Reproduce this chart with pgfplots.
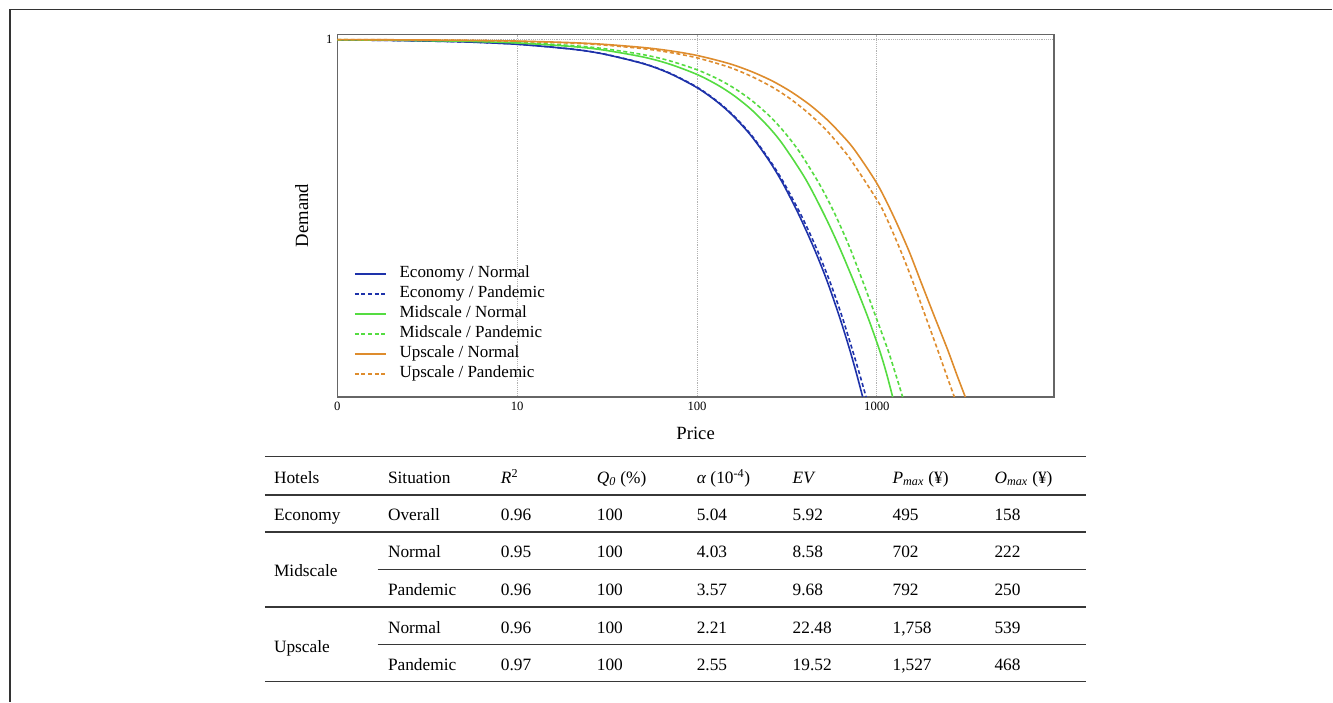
\documentclass[border=0pt]{standalone}
\usepackage{pgfplots}
\pgfplotsset{compat=1.18}
\usepackage{fontspec}
\setmainfont{Liberation Serif}
\definecolor{cblue}{RGB}{30,50,170}
\definecolor{cgreen}{RGB}{85,220,65}
\definecolor{corange}{RGB}{222,140,45}
\definecolor{tline}{RGB}{55,55,55}

\pgfplotstableread{
x y
1 0.9987
2 0.9973
5 0.9933
10 0.9865
20 0.9731
30 0.9596
50 0.9326
70 0.9057
100 0.8653
130 0.8249
160 0.7845
200 0.7306
250 0.6632
300 0.5975
370 0.5078
450 0.4127
530 0.3230
620 0.2237
700 0.1391
770 0.0660
834 0.0
}\econN
\pgfplotstableread{
x y
1 0.9987
2 0.9973
5 0.9933
10 0.9867
20 0.9733
30 0.9600
50 0.9333
70 0.9067
100 0.8667
130 0.8267
160 0.7867
200 0.7334
250 0.6667
300 0.6042
380 0.5077
460 0.4176
550 0.3206
640 0.2255
730 0.1329
800 0.0654
871 0.0
}\econP
\pgfplotstableread{
x y
1 0.9990
2 0.9980
5 0.9951
10 0.9902
20 0.9804
30 0.9707
50 0.9511
70 0.9315
100 0.9022
130 0.8728
160 0.8435
200 0.8044
250 0.7554
300 0.7065
400 0.6109
511 0.5087
620 0.4178
750 0.3187
890 0.2239
1032 0.1324
1130 0.0667
1224 0.0
}\midN
\pgfplotstableread{
x y
1 0.9992
2 0.9983
5 0.9958
10 0.9915
20 0.9831
30 0.9746
50 0.9577
70 0.9407
100 0.9153
130 0.8899
160 0.8645
200 0.8306
250 0.7883
300 0.7459
370 0.6867
480 0.5949
580 0.5153
700 0.4229
834 0.3240
990 0.2225
1148 0.1337
1270 0.0647
1391 0.0
}\midP
\pgfplotstableread{
x y
1 0.9996
2 0.9991
5 0.9978
10 0.9955
20 0.9911
30 0.9866
50 0.9776
70 0.9687
100 0.9553
150 0.9329
200 0.9106
260 0.8848
330 0.8552
420 0.8186
520 0.7791
620 0.7401
750 0.6919
1000 0.5975
1224 0.5108
1500 0.4110
1761 0.3208
2100 0.2223
2474 0.1322
2800 0.0586
3102 0.0
}\upN
\pgfplotstableread{
x y
1 0.9995
2 0.9990
5 0.9974
10 0.9949
20 0.9897
30 0.9846
50 0.9743
70 0.9640
100 0.9486
150 0.9229
200 0.8971
260 0.8677
330 0.8340
420 0.7922
522 0.7469
620 0.7037
719 0.6624
1010 0.5484
1125 0.5032
1350 0.4114
1581 0.3239
1900 0.2141
2177 0.1318
2450 0.0585
2696 0.0
}\upP

\begin{document}
\begin{tikzpicture}
\begin{scope}[x=0.75pt,y=-0.75pt]
\path (0,0) rectangle (1333,702);
\draw[line width=1.4pt, color=black!80] (10,702) -- (10,9.5) -- (1333,9.5);
% table
\begin{scope}[line width=1.3pt, color=tline]
\draw (265,456.7) -- (1087,456.7);
\draw (265,495) -- (1087,495);
\draw (265,532) -- (1087,532);
\draw (378,570) -- (1087,570);
\draw (265,607.5) -- (1087,607.5);
\draw (378,645) -- (1087,645);
\draw (265,682) -- (1087,682);
\end{scope}
\begin{scope}[every node/.style={anchor=mid west, inner sep=0pt, yshift=-2.6pt, font=\fontsize{13}{15}\selectfont}]
% header
\node at (274,477) {Hotels};
\node at (388,477) {Situation};
\node at (501,477) {\textit{R}\textsuperscript{2}};
\node at (597,477) {\textit{Q\textsubscript{0}} (\%)};
\node at (697,477) {\textit{α} (10\textsuperscript{-4})};
\node at (793,477) {\textit{EV}};
\node at (893,477) {\textit{P\textsubscript{max}} (¥)};
\node at (995,477) {\textit{O\textsubscript{max}} (¥)};
% rows
\node at (274,514) {Economy};
\node at (388,514) {Overall};
\node at (501,514) {0.96};
\node at (597,514) {100};
\node at (697,514) {5.04};
\node at (793,514) {5.92};
\node at (893,514) {495};
\node at (995,514) {158};
\node at (274,570) {Midscale};
\node at (388,551) {Normal};
\node at (501,551) {0.95};
\node at (597,551) {100};
\node at (697,551) {4.03};
\node at (793,551) {8.58};
\node at (893,551) {702};
\node at (995,551) {222};
\node at (388,589) {Pandemic};
\node at (501,589) {0.96};
\node at (597,589) {100};
\node at (697,589) {3.57};
\node at (793,589) {9.68};
\node at (893,589) {792};
\node at (995,589) {250};
\node at (274,646) {Upscale};
\node at (388,627) {Normal};
\node at (501,627) {0.96};
\node at (597,627) {100};
\node at (697,627) {2.21};
\node at (793,627) {22.48};
\node at (893,627) {1,758};
\node at (995,627) {539};
\node at (388,664) {Pandemic};
\node at (501,664) {0.97};
\node at (597,664) {100};
\node at (697,664) {2.55};
\node at (793,664) {19.52};
\node at (893,664) {1,527};
\node at (995,664) {468};
\end{scope}
\end{scope}
\begin{axis}[
  at={(253.125pt,-297.975pt)}, anchor=south west,
  scale only axis, width=537.9pt, height=272.25pt,
  xmode=log, xmin=1, xmax=9650, ymin=0, ymax=1.0145,
  xtick={1,10,100,1000}, xticklabels={0,10,100,1000},
  ytick={1}, yticklabels={1},
  xminorticks=false, yminorticks=false,
  major tick length=0pt,
  xmajorgrids, ymajorgrids,
  grid style={densely dotted, color=gray!60, line width=0.6pt},
  axis line style={color=black!60, line width=0.9pt},
  tick label style={font=\fontsize{9.5}{11}\selectfont},
  xlabel={Price}, ylabel={Demand},
  label style={font=\fontsize{14}{16}\selectfont},
  xlabel style={at={(axis description cs:0.5,-0.0992)}, anchor=center},
  ylabel style={at={(axis description cs:-0.0495,0.5)}, anchor=center},
  legend cell align=left,
  legend style={at={(axis description cs:0.023,0.362)}, anchor=north west,
    draw=none, fill=none, inner sep=0pt, row sep=3pt,
    font=\fontsize{12.75}{14}\selectfont,
    nodes={inner sep=0pt, text height=9pt, text depth=3pt},
    /tikz/every odd column/.append style={column sep=9.75pt}},
  legend image code/.code={\draw[#1] (0pt,0pt) -- (23.25pt,0pt);},
  every axis plot/.append style={line width=1.2pt},
]
\addplot[color=cblue, smooth] table {\econN};
\addlegendentry{Economy / Normal}
\addplot[color=cblue, smooth, dash pattern=on 3pt off 2pt] table {\econP};
\addlegendentry{Economy / Pandemic}
\addplot[color=cgreen, smooth] table {\midN};
\addlegendentry{Midscale / Normal}
\addplot[color=cgreen, smooth, dash pattern=on 3pt off 2pt] table {\midP};
\addlegendentry{Midscale / Pandemic}
\addplot[color=corange, smooth] table {\upN};
\addlegendentry{Upscale / Normal}
\addplot[color=corange, smooth, dash pattern=on 3pt off 2pt] table {\upP};
\addlegendentry{Upscale / Pandemic}
\end{axis}
\end{tikzpicture}
\end{document}
